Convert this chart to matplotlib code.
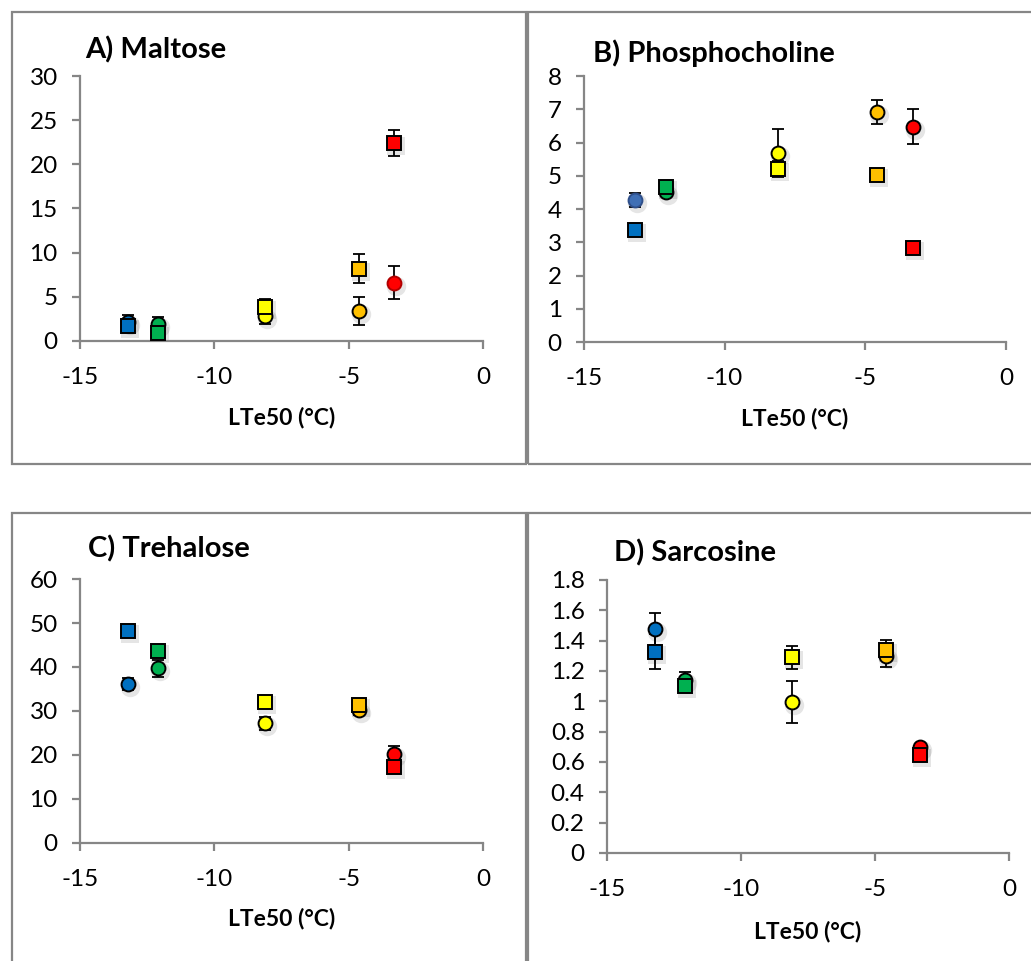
import matplotlib
matplotlib.use("Agg")
import matplotlib.pyplot as plt
import matplotlib.transforms as mtransforms
from matplotlib.patches import Rectangle
import numpy as np

plt.rcParams["font.family"] = ["Lato", "DejaVu Sans"]
plt.rcParams["axes.unicode_minus"] = False

# LTe50 of the five groups (same for every panel)
lte50 = [-13.2, -12.1, -8.1, -4.6, -3.3]
group_colors = ["#0070C0", "#00B050", "#FFFF00", "#FFC000", "#FF0000"]

# A) Maltose
maltose_circle = [2.1, 1.9, 2.8, 3.4, 6.6]
maltose_circle_err = [0.8, 0.8, 0.9, 1.6, 1.9]
maltose_square = [1.7, 0.9, 3.8, 8.2, 22.4]
maltose_square_err = [0.3, 0.2, 0.9, 1.6, 1.5]

# B) Phosphocholine
phos_circle = [4.27, 4.52, 5.69, 6.93, 6.48]
phos_circle_err = [0.22, 0.1, 0.71, 0.36, 0.53]
phos_square = [3.36, 4.67, 5.2, 5.02, 2.84]
phos_square_err = [0.05, 0.08, 0.25, 0.05, 0.05]

# C) Trehalose
treh_circle = [36.1, 39.7, 27.2, 30.2, 20.2]
treh_circle_err = [1.4, 2.0, 1.5, 1.0, 1.8]
treh_square = [48.2, 43.7, 32.1, 31.4, 17.3]
treh_square_err = [0.5, 0.8, 0.5, 0.8, 0.6]

# D) Sarcosine
sarc_circle = [1.477, 1.14, 0.994, 1.30, 0.70]
sarc_circle_err = [0.107, 0.05, 0.14, 0.077, 0.02]
sarc_square = [1.328, 1.10, 1.29, 1.34, 0.647]
sarc_square_err = [0.116, 0.04, 0.076, 0.065, 0.02]

panels = [
    dict(title="A) Maltose", circ=maltose_circle, circ_err=maltose_circle_err,
         sq=maltose_square, sq_err=maltose_square_err, ymax=30, ystep=5,
         rect=[0.0776, 0.6452, 0.3909, 0.2757], title_xy=(0.012, 1.098),
         special={4: ("#FF0000", "#B00000")}),
    dict(title="B) Phosphocholine", circ=phos_circle, circ_err=phos_circle_err,
         sq=phos_square, sq_err=phos_square_err, ymax=8, ystep=1,
         rect=[0.5664, 0.6441, 0.4093, 0.2768], title_xy=(0.021, 1.086),
         special={0: ("#3F6FB5", "#2F4F8A")}),
    dict(title="C) Trehalose", circ=treh_circle, circ_err=treh_circle_err,
         sq=treh_square, sq_err=treh_square_err, ymax=60, ystep=10,
         rect=[0.0776, 0.1228, 0.3909, 0.2747], title_xy=(0.02, 1.114),
         special={}),
    dict(title="D) Sarcosine", circ=sarc_circle, circ_err=sarc_circle_err,
         sq=sarc_square, sq_err=sarc_square_err, ymax=1.8, ystep=0.2,
         rect=[0.5887, 0.1124, 0.3899, 0.2841], title_xy=(0.017, 1.10),
         special={}),
]

AXIS_GRAY = "#868686"

fig = plt.figure(figsize=(10.31, 9.61), dpi=100)

# chart-area frames (pixel boxes of the four Excel charts)
for x0, y0, x1, y1 in [(12, 12, 526, 464), (528, 12, 1040, 464),
                       (12, 513, 526, 975), (528, 513, 1040, 975)]:
    fig.patches.append(Rectangle((x0 / 1031, 1 - y1 / 961), (x1 - x0) / 1031, (y1 - y0) / 961,
                                 transform=fig.transFigure, fill=False,
                                 edgecolor=AXIS_GRAY, linewidth=1.6))


def draw_series(ax, xs, ys, errs, marker, ms, special):
    shadow = mtransforms.offset_copy(ax.transData, fig=fig, x=2, y=-3, units="dots")
    ax.plot(xs, ys, linestyle="none", marker=marker, markersize=ms + 4,
            color="black", alpha=0.10, markeredgewidth=0, transform=shadow, zorder=2)
    ax.errorbar(xs, ys, yerr=errs, fmt="none", ecolor="black", elinewidth=1.3,
                capsize=4.5, capthick=1.3, zorder=3)
    for i, (x, y) in enumerate(zip(xs, ys)):
        face, edge = special.get(i, (group_colors[i], "black"))
        ax.plot([x], [y], linestyle="none", marker=marker, markersize=ms,
                markerfacecolor=face, markeredgecolor=edge, markeredgewidth=1.4, zorder=4)


for p in panels:
    ax = fig.add_axes(p["rect"])
    draw_series(ax, lte50, p["circ"], p["circ_err"], "o", 10, p["special"])
    draw_series(ax, lte50, p["sq"], p["sq_err"], "s", 9.5, {})

    ax.set_xlim(-15, 0)
    ax.set_ylim(0, p["ymax"])
    ax.set_xticks([-15, -10, -5, 0])
    ax.set_yticks(np.round(np.arange(0, p["ymax"] + p["ystep"] / 2, p["ystep"]), 2))
    ax.yaxis.set_major_formatter(plt.FuncFormatter(lambda v, _: f"{v:g}"))

    for side in ("top", "right"):
        ax.spines[side].set_visible(False)
    for side in ("left", "bottom"):
        ax.spines[side].set_color(AXIS_GRAY)
        ax.spines[side].set_linewidth(1.6)
    ax.tick_params(direction="out", length=6, width=1.6, color=AXIS_GRAY,
                   labelsize=17.5, labelcolor="black")
    ax.tick_params(axis="y", pad=10)
    ax.tick_params(axis="x", pad=13)

    ax.set_xlabel("LTe50 (°C)", fontsize=16.5, fontweight="bold", va="center")
    ax.xaxis.set_label_coords(0.5, -0.287)
    ax.text(p["title_xy"][0], p["title_xy"][1], p["title"], transform=ax.transAxes,
            fontsize=21, fontweight="bold", ha="left", va="center")
    ax.patch.set_alpha(0)

fig.savefig("out.png", dpi=100)
